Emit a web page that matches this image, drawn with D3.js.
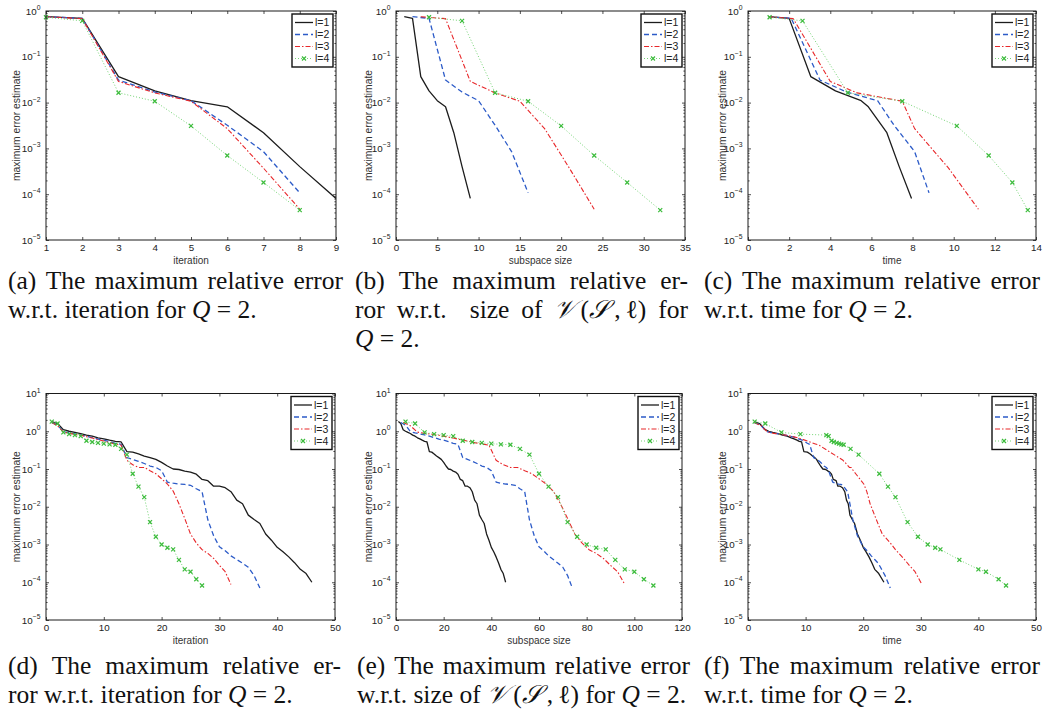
<!DOCTYPE html>
<html>
<head>
<meta charset="utf-8">
<script src="https://cdn.jsdelivr.net/npm/d3@7"></script>
<style>
  body { margin: 0; background: #fff; }
  svg { display: block; }
</style>
</head>
<body>
<svg id="fig" width="1048" height="724"></svg>
<script>
// ---------- data: Q = 2, four block sizes l = 1..4 ----------
const seriesNames = ["l=1", "l=2", "l=3", "l=4"];

// top row: error estimate per iteration
const itTop1 = [1, 2, 3, 4, 5, 6, 7, 8, 9];
const itTop2 = [1, 2, 3, 4, 5, 6, 7, 8];
const itTop3 = [1, 2, 3, 4, 5, 6, 7, 8];
const itTop4 = [1, 2, 3, 4, 5, 6, 7, 8];
const errTop1 = [0.75, 0.69, 0.037, 0.018, 0.011, 0.0081, 0.0022, 0.00040, 0.000081];
const errTop2 = [0.75, 0.69, 0.031, 0.017, 0.011, 0.0032, 0.00085, 0.000107];
const errTop3 = [0.75, 0.68, 0.029, 0.0163, 0.0107, 0.0027, 0.00037, 0.000047];
const errTop4 = [0.73, 0.61, 0.0164, 0.0107, 0.0031, 0.00070, 0.00018, 0.000045];
const sizeTop1 = [1, 2, 3, 4, 5, 6, 7, 8, 9];
const sizeTop2 = [2, 4, 6, 8, 10, 12, 14, 16];
const sizeTop3 = [3, 6, 9, 12, 15, 18, 21, 24];
const sizeTop4 = [4, 8, 12, 16, 20, 24, 28, 32];
const timeTop1 = [1.0, 2.0, 3.05, 4.25, 5.5, 5.85, 6.75, 7.35, 7.95];
const timeTop2 = [1.0, 2.1, 3.5, 4.8, 6.3, 7.1, 8.1, 8.8];
const timeTop3 = [1.0, 2.2, 4.0, 5.3, 7.5, 8.1, 9.75, 11.2];
const timeTop4 = [1.05, 2.65, 4.85, 7.5, 10.15, 11.7, 12.85, 13.6];

// bottom row: error estimate per iteration
const itBot1 = [1,2,3,4,5,6,7,8,9,10,11,12,13,14,15,16,17,18,19,20,21,22,23,24,25,26,27,28,29,30,31,32,33,34,35,36,37,38,39,40,41,42,43,44,45,46];
const itBot2 = [1,2,3,4,5,6,7,8,9,10,11,12,13,14,15,16,17,18,19,20,21,22,23,24,25,26,27,28,29,30,31,32,33,34,35,36,37];
const itBot3 = [1,2,3,4,5,6,7,8,9,10,11,12,13,14,15,16,17,18,19,20,21,22,23,24,25,26,27,28,29,30,31,32];
const itBot4 = [1,2,3,4,5,6,7,8,9,10,11,12,13,14,15,16,17,18,19,20,21,22,23,24,25,26,27];
const errBot1 = [1.8, 1.6, 1.1, 1.0, 0.93, 0.87, 0.79, 0.74, 0.67, 0.63, 0.58, 0.54, 0.52, 0.29, 0.28,
  0.25, 0.22, 0.20, 0.18, 0.15, 0.12, 0.10, 0.097, 0.088, 0.083, 0.073, 0.053, 0.049, 0.035, 0.035,
  0.032, 0.025, 0.015, 0.012, 0.0060, 0.0046, 0.0036, 0.0019, 0.0013, 0.00084, 0.00064, 0.00047,
  0.00033, 0.00022, 0.00017, 0.00010];
const errBot2 = [1.7, 1.45, 0.98, 0.90, 0.85, 0.80, 0.74, 0.68, 0.62, 0.58, 0.53, 0.48, 0.45, 0.20, 0.18,
  0.16, 0.14, 0.12, 0.11, 0.090, 0.045, 0.042, 0.040, 0.039, 0.037, 0.030, 0.025, 0.0045, 0.0017,
  0.00087, 0.00068, 0.00050, 0.00040, 0.00032, 0.00025, 0.00015, 0.000070];
const errBot3 = [1.7, 1.4, 0.95, 0.88, 0.83, 0.78, 0.72, 0.66, 0.60, 0.55, 0.50, 0.46, 0.43, 0.17, 0.13,
  0.11, 0.11, 0.090, 0.075, 0.055, 0.040, 0.026, 0.012, 0.0049, 0.0019, 0.0011, 0.00073, 0.00058,
  0.00043, 0.00028, 0.00019, 0.000087];
const errBot4 = [1.8, 1.6, 0.93, 0.84, 0.79, 0.74, 0.56, 0.52, 0.49, 0.47, 0.45, 0.44, 0.34, 0.24, 0.075,
  0.034, 0.018, 0.0039, 0.0016, 0.0010, 0.00082, 0.00074, 0.00039, 0.00022, 0.00019, 0.00012, 0.000082];
const sizeBot1 = [1,2,3,4,5,6,7,8,9,10,11,12,13,14,15,16,17,18,19,20,21,22,23,24,25,26,27,28,29,30,31,32,33,34,35,36,37,38,39,40,41,42,43,44,45,46];
const sizeBot2 = [2,4,6,8,10,12,14,16,18,20,22,24,26,28,30,32,34,36,38,40,42,44,46,48,50,52,54,56,58,60,62,64,66,68,70,72,74];
const sizeBot3 = [3,6,9,12,15,18,21,24,27,30,33,36,39,42,45,48,51,54,57,60,63,66,69,72,75,78,81,84,87,90,93,96];
const sizeBot4 = [4,8,12,16,20,24,28,32,36,40,44,48,52,56,60,64,68,72,76,80,84,88,92,96,100,104,108];
const timeBot1 = [1.1, 2.0, 3.0, 3.6, 4.3, 5.2, 6.0, 6.8, 7.5, 8.0, 8.5, 8.9, 9.3, 9.7, 10.3, 10.8, 11.2,
  11.6, 11.9, 12.2, 12.6, 13.0, 13.5, 13.9, 14.2, 14.5, 14.8, 15.3, 15.6, 16.0, 16.4, 16.8, 17.1, 17.4,
  17.7, 18.1, 18.5, 19.0, 19.5, 20.0, 20.5, 21.0, 21.5, 22.0, 22.7, 23.6];
const timeBot2 = [1.1, 2.2, 3.2, 4.3, 5.3, 6.3, 7.3, 8.3, 8.9, 9.4, 9.9, 10.3, 10.7, 11.4, 11.9, 12.4, 12.8,
  13.2, 13.6, 14.0, 14.7, 15.2, 15.7, 16.1, 16.5, 16.9, 17.3, 18.2, 19.0, 20.0, 20.7, 21.4, 22.0, 22.6,
  23.0, 23.8, 24.7];
const timeBot3 = [1.1, 2.3, 3.4, 4.5, 5.6, 6.7, 7.8, 8.8, 9.6, 10.3, 11.0, 11.7, 12.3, 16.5, 17.2, 17.6,
  17.9, 18.3, 18.7, 19.4, 20.1, 20.6, 21.2, 22.2, 23.3, 24.7, 25.6, 26.2, 27.0, 28.0, 29.0, 30.2];
const timeBot4 = [1.16, 3.0, 5.8, 9.1, 13.6, 14.0, 14.5, 14.9, 15.4, 15.8, 16.2, 16.6, 17.8, 19.2, 22.8,
  24.3, 25.6, 27.7, 29.5, 31.2, 32.5, 33.4, 36.7, 40.0, 41.3, 43.5, 44.8];

// tick values
const ticksIterTop = [1, 2, 3, 4, 5, 6, 7, 8, 9];
const ticksSizeTop = [0, 5, 10, 15, 20, 25, 30, 35];
const ticksTimeTop = [0, 2, 4, 6, 8, 10, 12, 14];
const ticksIterBot = [0, 10, 20, 30, 40, 50];
const ticksSizeBot = [0, 20, 40, 60, 80, 100, 120];
const ticksTimeBot = [0, 10, 20, 30, 40, 50];
const decadesTop = [-5, -4, -3, -2, -1, 0];
const decadesBot = [-5, -4, -3, -2, -1, 0, 1];

// ---------- styles ----------
const sans = "'Liberation Sans', Arial, Helvetica, sans-serif";
const serif = "'Liberation Serif', 'Times New Roman', serif";
const mathFont = "'DejaVu Serif', 'DejaVu Sans', 'Noto Sans', serif";
const seriesStyles = [
  { color: "#1c1c1c", dash: null, width: 1.3 },
  { color: "#2c5bc8", dash: "5,3", width: 1.3 },
  { color: "#e8282b", dash: "5,2,1.5,2", width: 1.1 },
  { color: "#74d474", dash: "1,2", width: 1.0, marker: "#3cbc3c" }
];

const fig = d3.select("#fig");
fig.append("rect").attr("width", 1048).attr("height", 724).attr("fill", "#fff");

const panels = [
  { id: "a", left: 46, right: 336, top: 11, bottom: 240, yMax: 1, xDomain: [1, 9], xTicks: ticksIterTop,
    decades: decadesTop, xLabel: "iteration", ylabX: 16,
    xs: [itTop1, itTop2, itTop3, itTop4], ys: [errTop1, errTop2, errTop3, errTop4] },
  { id: "b", left: 396, right: 685, top: 11, bottom: 240, yMax: 1, xDomain: [0, 35], xTicks: ticksSizeTop,
    decades: decadesTop, xLabel: "subspace size", ylabX: 368,
    xs: [sizeTop1, sizeTop2, sizeTop3, sizeTop4], ys: [errTop1, errTop2, errTop3, errTop4] },
  { id: "c", left: 748, right: 1036, top: 11, bottom: 240, yMax: 1, xDomain: [0, 14], xTicks: ticksTimeTop,
    decades: decadesTop, xLabel: "time", ylabX: 722,
    xs: [timeTop1, timeTop2, timeTop3, timeTop4], ys: [errTop1, errTop2, errTop3, errTop4] },
  { id: "d", left: 46, right: 335, top: 393.5, bottom: 620, yMax: 10, xDomain: [0, 50], xTicks: ticksIterBot,
    decades: decadesBot, xLabel: "iteration", ylabX: 16,
    xs: [itBot1, itBot2, itBot3, itBot4], ys: [errBot1, errBot2, errBot3, errBot4] },
  { id: "e", left: 396, right: 682, top: 393.5, bottom: 620, yMax: 10, xDomain: [0, 120], xTicks: ticksSizeBot,
    decades: decadesBot, xLabel: "subspace size", ylabX: 368,
    xs: [sizeBot1, sizeBot2, sizeBot3, sizeBot4], ys: [errBot1, errBot2, errBot3, errBot4] },
  { id: "f", left: 748, right: 1036, top: 393.5, bottom: 620, yMax: 10, xDomain: [0, 50], xTicks: ticksTimeBot,
    decades: decadesBot, xLabel: "time", ylabX: 722,
    xs: [timeBot1, timeBot2, timeBot3, timeBot4], ys: [errBot1, errBot2, errBot3, errBot4] }
];

function crossPath(cx, cy, s) {
  return `M${cx - s},${cy - s}L${cx + s},${cy + s}M${cx - s},${cy + s}L${cx + s},${cy - s}`;
}

function drawPanel(p) {
  const x = d3.scaleLinear().domain(p.xDomain).range([p.left, p.right]);
  const y = d3.scaleLog().domain([1e-5, p.yMax]).range([p.bottom, p.top]);
  const g = fig.append("g").attr("class", "panel-" + p.id);

  const clipId = "clip-" + p.id;
  g.append("clipPath").attr("id", clipId).append("rect")
    .attr("x", p.left).attr("y", p.top)
    .attr("width", p.right - p.left).attr("height", p.bottom - p.top);

  // ticks (inward, mirrored on all four sides)
  const majors = p.decades.map(e => Math.pow(10, e));
  const minors = [];
  p.decades.slice(0, -1).forEach(e => { for (let k = 2; k <= 9; k++) minors.push(k * Math.pow(10, e)); });
  const strip = sel => sel.call(s => s.select(".domain").remove())
    .call(s => s.selectAll(".tick line").attr("stroke", "#222").attr("stroke-width", 0.8));

  g.append("g").attr("transform", `translate(0,${p.bottom})`)
    .call(d3.axisBottom(x).tickValues(p.xTicks).tickSize(-3).tickPadding(4).tickFormat(d3.format("d")))
    .call(strip)
    .call(s => s.selectAll("text").attr("font-family", sans).attr("font-size", 9.8).attr("fill", "#222"));
  g.append("g").attr("transform", `translate(0,${p.top})`)
    .call(d3.axisTop(x).tickValues(p.xTicks).tickSize(-3).tickFormat(""))
    .call(strip);
  [[d3.axisLeft, p.left], [d3.axisRight, p.right]].forEach(([ax, pos]) => {
    g.append("g").attr("transform", `translate(${pos},0)`)
      .call(ax(y).tickValues(majors).tickSize(-3).tickFormat("")).call(strip);
    g.append("g").attr("transform", `translate(${pos},0)`)
      .call(ax(y).tickValues(minors).tickSize(-1.6).tickFormat("")).call(strip);
  });

  // y tick labels as powers of ten
  const yl = g.append("g").attr("font-family", sans).attr("fill", "#222");
  p.decades.forEach(e => {
    const t = yl.append("text").attr("x", p.left - 5.5).attr("y", y(Math.pow(10, e)) + 3.5)
      .attr("text-anchor", "end").attr("font-size", 9.8);
    t.append("tspan").text("10");
    t.append("tspan").attr("dy", -4.5).attr("font-size", 6.8).text(e < 0 ? "\u2212" + (-e) : String(e));
  });

  // data lines
  const plot = g.append("g").attr("clip-path", `url(#${clipId})`);
  const line = d3.line().x(d => x(d[0])).y(d => y(d[1]));
  const marks = g.append("g");
  p.xs.forEach((xv, i) => {
    const st = seriesStyles[i];
    const pts = d3.zip(xv, p.ys[i]);
    plot.append("path").attr("d", line(pts)).attr("fill", "none")
      .attr("stroke", st.color).attr("stroke-width", st.width)
      .attr("stroke-dasharray", st.dash).attr("stroke-linejoin", "round");
    if (st.marker) {
      marks.selectAll(null).data(pts).join("path")
        .attr("d", d => crossPath(x(d[0]), y(d[1]), 2))
        .attr("stroke", st.marker).attr("stroke-width", 1.2).attr("fill", "none");
    }
  });

  // frame
  g.append("rect").attr("x", p.left).attr("y", p.top)
    .attr("width", p.right - p.left).attr("height", p.bottom - p.top)
    .attr("fill", "none").attr("stroke", "#1a1a1a").attr("stroke-width", 1);

  // axis titles
  g.append("text").attr("x", (p.left + p.right) / 2).attr("y", p.bottom + 23.5)
    .attr("text-anchor", "middle").attr("font-family", sans).attr("font-size", 10).attr("fill", "#333")
    .text(p.xLabel);
  const cy = (p.top + p.bottom) / 2;
  g.append("text").attr("transform", `translate(${p.ylabX + 3.5},${cy}) rotate(-90)`)
    .attr("text-anchor", "middle").attr("font-family", sans).attr("font-size", 10.3).attr("fill", "#333")
    .text("maximum error estimate");

  // legend
  const lw = 41, lh = 53;
  const lx = p.right - 3 - lw, ly = p.top + 3;
  const lg = g.append("g");
  lg.append("rect").attr("x", lx).attr("y", ly).attr("width", lw).attr("height", lh)
    .attr("fill", "#fff").attr("stroke", "#111").attr("stroke-width", 1.4);
  seriesNames.forEach((name, i) => {
    const st = seriesStyles[i];
    const ry = ly + 8.5 + i * 12;
    lg.append("line").attr("x1", lx + 3).attr("x2", lx + 21).attr("y1", ry).attr("y2", ry)
      .attr("stroke", st.color).attr("stroke-width", st.width).attr("stroke-dasharray", st.dash);
    if (st.marker) {
      lg.append("path").attr("d", crossPath(lx + 12, ry, 2))
        .attr("stroke", st.marker).attr("stroke-width", 1.2);
    }
    lg.append("text").attr("x", lx + 23).attr("y", ry + 3.7)
      .attr("font-family", sans).attr("font-size", 10.5).attr("fill", "#222").text(name);
  });
}

panels.forEach(drawPanel);

// ---------- captions (justified serif paragraphs) ----------
const captionSize = 25.5;
const captions = [
  { x: 8, w: 335, y: 289, lines: [
    ["(a) The maximum relative error", true],
    ["w.r.t. iteration for _Q_ = 2.", false] ] },
  { x: 355, w: 333, y: 289, lines: [
    ["(b) The maximum relative er-", true],
    ["ror w.r.t. size of {𝒱}\u2009({𝒮}\u2009,\u2009ℓ) for", true],
    ["_Q_ = 2.", false] ] },
  { x: 704, w: 336, y: 289, lines: [
    ["(c) The maximum relative error", true],
    ["w.r.t. time for _Q_ = 2.", false] ] },
  { x: 8, w: 333, y: 674, lines: [
    ["(d) The maximum relative er-", true],
    ["ror w.r.t. iteration for _Q_ = 2.", false] ] },
  { x: 357, w: 333, y: 674, lines: [
    ["(e) The maximum relative error", true],
    ["w.r.t. size of {𝒱}\u2009({𝒮}\u2009,\u2009ℓ) for _Q_ = 2.", false] ] },
  { x: 704, w: 336, y: 674, lines: [
    ["(f) The maximum relative error", true],
    ["w.r.t. time for _Q_ = 2.", false] ] }
];
const lineGap = 29;

function appendRuns(parent, word) {
  word.split(/(_[^_]+_|\{[^}]+\})/).filter(s => s.length).forEach(seg => {
    const ts = parent.append("tspan");
    if (seg.startsWith("_")) ts.attr("font-style", "italic").text(seg.slice(1, -1));
    else if (seg.startsWith("{")) ts.attr("font-family", mathFont).attr("font-style", "italic").text(seg.slice(1, -1));
    else ts.text(seg);
  });
}

const capG = fig.append("g").attr("font-family", serif).attr("font-size", captionSize).attr("fill", "#111");
const spaceW = captionSize * 0.25;
captions.forEach(c => {
  c.lines.forEach(([src, justify], li) => {
    const t = capG.append("text").attr("y", c.y + li * lineGap);
    const words = src.split(" ");
    const spans = words.map(w => { const s = t.append("tspan"); appendRuns(s, w); return s; });
    const widths = spans.map(s => s.node().getComputedTextLength());
    // sentence-ending periods stretch more (as in TeX spacing)
    const weights = words.slice(0, -1).map(w => /[a-z]\.$/.test(w) ? 3 : 1);
    const used = d3.sum(widths) + spaceW * weights.length;
    const extra = justify ? Math.max(0, c.w - used) : 0;
    const wsum = d3.sum(weights) || 1;
    let xpos = c.x;
    spans.forEach((s, i) => {
      s.attr("x", xpos);
      xpos += widths[i];
      if (i < weights.length) xpos += spaceW + extra * weights[i] / wsum;
    });
  });
});
</script>
</body>
</html>
